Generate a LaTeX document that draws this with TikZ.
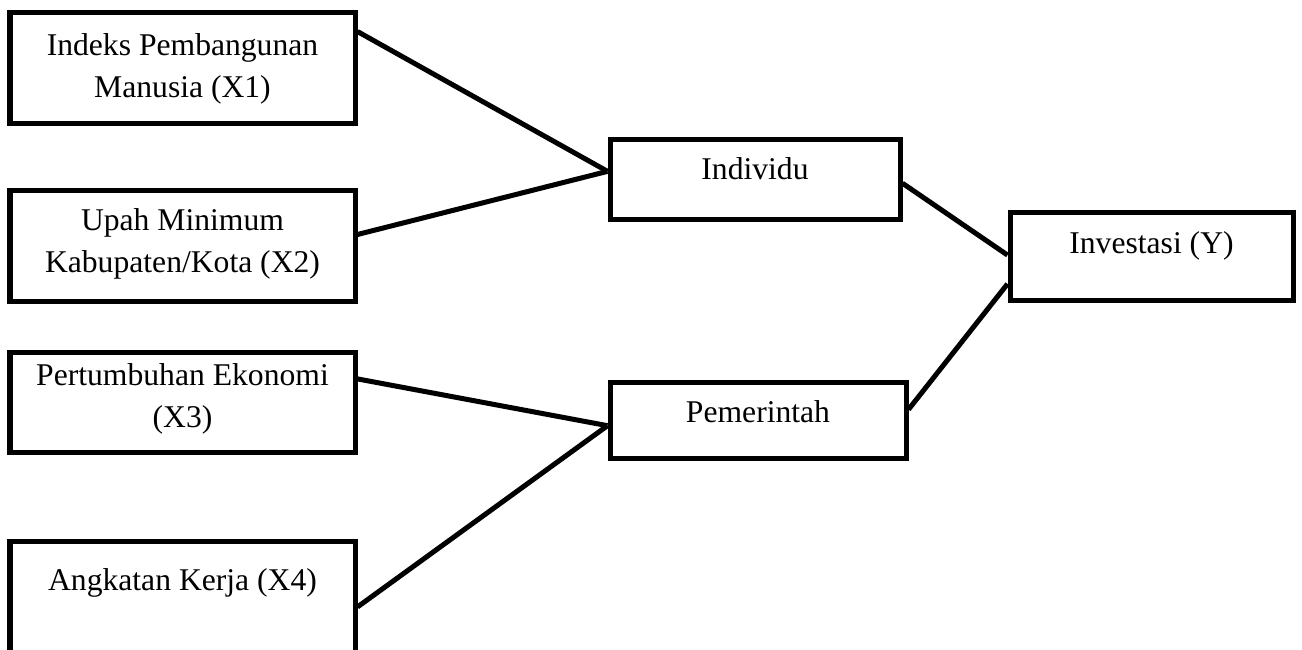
\documentclass[tikz,border=0pt]{standalone}
\usepackage{fontspec}
\setmainfont{Liberation Serif}
\usetikzlibrary{calc}

\begin{document}
\begin{tikzpicture}[
    line width=2.85pt,
    every node/.style={font=\fontsize{18}{23.8}\selectfont},
    box/.style={draw, rectangle, align=center, inner sep=0pt},
    varbox/.style={box, minimum width=6.9cm, minimum height=2.22cm},
    txt/.style 2 args={text height=#1, text depth=#2},
  ]

  % ---- page ----------------------------------------------------------
  \useasboundingbox (0,0) rectangle (26.04,-12.98);

  % ---- independent variables -----------------------------------------
  \node[varbox, txt={38.2pt}{4pt}] (x1) at (3.65,-1.35) {Indeks Pembangunan\\Manusia (X1)};
  \node[varbox, txt={34.5pt}{4pt}] (x2) at (3.65,-4.91) {Upah Minimum\\Kabupaten/Kota (X2)};
  \node[varbox, minimum height=2.0cm, txt={32.5pt}{4pt}] (x3) at (3.65,-8.04)
    {Pertumbuhan Ekonomi\\(X3)};
  \node[varbox, txt={12.5pt}{19.9pt}] (x4) at (3.65,-11.93) {Angkatan Kerja (X4)};

  % ---- intermediate and dependent ------------------------------------
  \node[box, minimum width=5.8cm, minimum height=1.6cm, txt={12.5pt}{11.4pt}]
    (ind) at (15.1,-3.58) {Individu};
  \node[box, minimum width=5.92cm, minimum height=1.52cm, txt={12.5pt}{9.4pt}]
    (pem) at (15.16,-8.4) {Pemerintah};
  \node[box, minimum width=5.66cm, minimum height=1.76cm, txt={12.5pt}{15.6pt}]
    (inv) at (23.03,-5.12) {Investasi (Y)};

  % ---- connectors ----------------------------------------------------
  \draw ($(x1.north east)!.19!(x1.south east)$) -- ($(ind.north west)!.41!(ind.south west)$);
  \draw ($(x2.north east)!.405!(x2.south east)$) -- ($(ind.north west)!.41!(ind.south west)$);
  \draw ($(x3.north east)!.28!(x3.south east)$) -- ($(pem.north west)!.57!(pem.south west)$);
  \draw ($(x4.north east)!.59!(x4.south east)$) -- ($(pem.north west)!.57!(pem.south west)$);
  \draw ($(ind.north east)!.55!(ind.south east)$) -- ($(inv.north west)!.49!(inv.south west)$);
  \draw ($(pem.north east)!.37!(pem.south east)$) -- ($(inv.north west)!.8!(inv.south west)$);

\end{tikzpicture}
\end{document}
